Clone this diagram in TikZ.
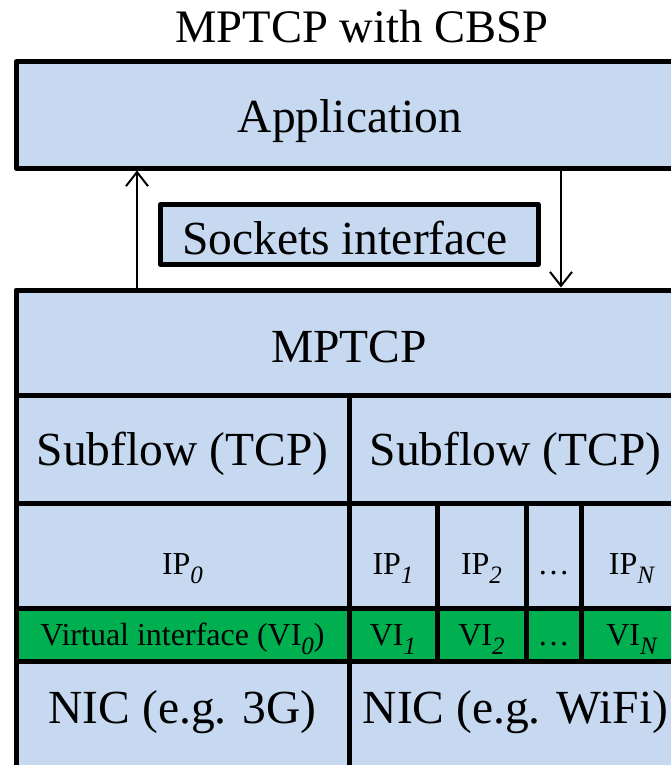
\documentclass[tikz,border=0pt]{standalone}
\usepackage{fontspec}
\setmainfont{Liberation Serif}
\usetikzlibrary{arrows.meta}

\definecolor{layerblue}{RGB}{198,217,241}
\definecolor{vigreen}{RGB}{0,176,80}

% italic, lowered index after IP / VI
\newcommand{\sbs}[1]{\raisebox{-9.5pt}{\fontsize{25}{25}\selectfont\itshape #1}}

% one rectangular layer cell with its label set on a given baseline:
% name, x1, y1, x2, y2, cell style, text style, baseline y, text
\newcommand{\layercell}[9]{%
  \pgfmathsetmacro{\lcw}{#4-#2}\pgfmathsetmacro{\lch}{#5-#3}%
  \pgfmathsetmacro{\lcx}{(#2+#4)/2}\pgfmathsetmacro{\lcy}{(#3+#5)/2}%
  \node[#6, minimum width=\lcw pt, minimum height=\lch pt] (#1) at (\lcx,\lcy) {};
  \node[#7, anchor=base] (#1-text) at (\lcx,#8) {#9};}

\tikzset{
  bigtxt/.style={font=\fontsize{47.5}{57}\selectfont, inner sep=0pt},
  smalltxt/.style={font=\fontsize{32}{38}\selectfont, inner sep=0pt},
  layer/.style={draw=black, line width=5pt, fill=layerblue, line join=round, inner sep=0pt},
  vilayer/.style={layer, fill=vigreen},
  sig/.style={line width=2pt, -{Straight Barb[length=14pt,width=22pt,line width=2pt]}}
}

\begin{document}
\begin{tikzpicture}[x=1pt, y=-1pt]
  \clip (0,0) rectangle (671,765);

  % title
  \node[font=\fontsize{46.6}{56}\selectfont, inner sep=0pt, anchor=base] (title) at (362,43) {MPTCP with CBSP};

  % application layer and socket API
  \layercell{app}{16}{62}{684}{168}{layer}{bigtxt}{132}{Application}
  \node[layer, minimum width=377.5pt, minimum height=60pt] (sock) at (349.25,234.5) {};
  \node[bigtxt, anchor=base] (sock-text) at (345,254) {Sockets interface};

  % MPTCP stack
  \layercell{mptcp}{16}{290}{682}{395.5}{layer}{bigtxt}{362}{MPTCP}
  \layercell{subL}{16}{395.5}{349}{503.5}{layer}{bigtxt}{465}{Subflow (TCP)}
  \layercell{subR}{349}{395.5}{682}{503.5}{layer}{bigtxt}{465}{Subflow (TCP)}

  \layercell{ip0}{16}{503.5}{349}{608}{layer}{smalltxt}{574}{IP\sbs{0}}
  \layercell{ip1}{349}{503.5}{437}{608}{layer}{smalltxt}{574}{IP\sbs{1}}
  \layercell{ip2}{437}{503.5}{526}{608}{layer}{smalltxt}{574}{IP\sbs{2}}
  \layercell{ipd}{526}{503.5}{581}{608}{layer}{smalltxt}{574}{\ldots}
  \layercell{ipN}{581}{503.5}{682}{608}{layer}{smalltxt}{574}{IP\sbs{N}}

  \layercell{vi0}{16}{608}{349}{661}{vilayer}{smalltxt}{645}{Virtual interface (VI\sbs{0})}
  \layercell{vi1}{349}{608}{437}{661}{vilayer}{smalltxt}{645}{VI\sbs{1}}
  \layercell{vi2}{437}{608}{526}{661}{vilayer}{smalltxt}{645}{VI\sbs{2}}
  \layercell{vid}{526}{608}{581}{661}{vilayer}{smalltxt}{645}{\ldots}
  \layercell{viN}{581}{608}{682}{661}{vilayer}{smalltxt}{645}{VI\sbs{N}}

  \layercell{nicL}{16}{661}{349}{768}{layer}{bigtxt}{723}{NIC (e.g. 3G)}
  \layercell{nicR}{349}{661}{682}{768}{layer}{bigtxt}{723}{NIC (e.g. WiFi)}

  % data paths between application and MPTCP
  \coordinate (upx) at (137,0);
  \coordinate (downx) at (561,0);
  \draw[sig] (upx |- mptcp.north) -- (upx |- app.south);
  \draw[sig] (downx |- app.south) -- (downx |- mptcp.north);
\end{tikzpicture}
\end{document}
